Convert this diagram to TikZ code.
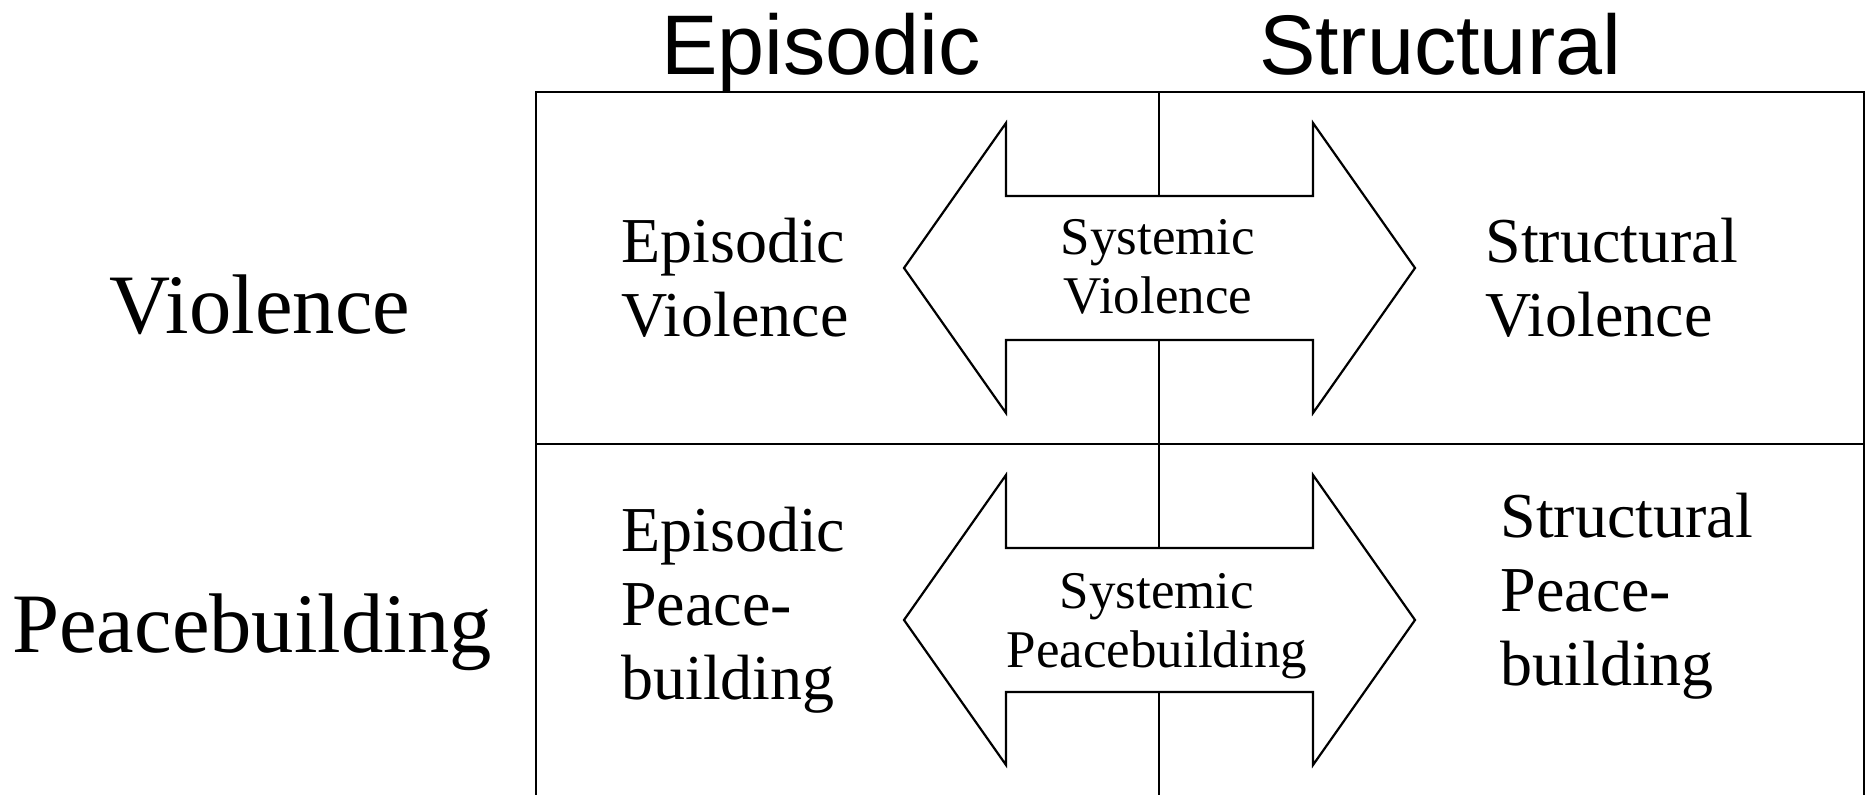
\documentclass[tikz,border=0pt]{standalone}
\usepackage{fontspec}
\setmainfont{Liberation Serif}
\newfontfamily\headfont{Liberation Sans}

\tikzset{
	gridline/.style={line width=1.1pt},
	bigarrow/.style={draw, fill=white, line width=1.1pt},
	colhead/.style={font={\headfont\fontsize{42.3}{50}\selectfont}, anchor=base, inner sep=0pt},
	rowhead/.style={font={\fontsize{42.3}{50}\selectfont}, anchor=base, inner sep=0pt},
	celltext/.style={font={\fontsize{32}{37}\selectfont}, align=left, anchor=base west, inner sep=0pt},
	systext/.style={font={\fontsize{26.5}{29.5}\selectfont}, align=center, anchor=base, inner sep=0pt}
}

\begin{document}
\begin{tikzpicture}[x=0.5pt,y=-0.5pt]
	\useasboundingbox (0,0) rectangle (1868,795);
	% table
	\coordinate (tl) at (536,92);
	\coordinate (tr) at (1864,92);
	\coordinate (tm) at (1159,92);
	\coordinate (bl) at (536,795);
	\coordinate (br) at (1864,795);
	\coordinate (bm) at (1159,795);
	\coordinate (ml) at (536,444);
	\coordinate (mr) at (1864,444);
	\draw [gridline] (bl)--(tl)--(tr)--(br);
	\draw [gridline] (ml)--(mr);
	\draw [gridline] (tm)--(bm);
	% double arrows
	\foreach \cy in {268,620}
	\draw [bigarrow] (904,\cy)--(1006,\cy-145)--(1006,\cy-72)--(1313,\cy-72)--(1313,\cy-145)
		--(1415,\cy)--(1313,\cy+145)--(1313,\cy+72)--(1006,\cy+72)--(1006,\cy+145)--cycle;
	% headings
	\node [colhead] (epihead) at (821,75) {Episodic};
	\node [colhead] (strhead) at (1440,75) {Structural};
	\node [rowhead] (violrow) at (260,334) {Violence};
	\node [rowhead] (peacerow) at (252,653) {Peacebuilding};
	% cells (anchored at the last baseline)
	\node [celltext] (epiviol) at (621,337) {Episodic\\Violence};
	\node [celltext] (strviol) at (1485,337) {Structural\\Violence};
	\node [celltext] (epipeace) at (621,700) {Episodic\\Peace-\\building};
	\node [celltext] (strpeace) at (1500,686) {Structural\\Peace-\\building};
	\node [systext] (sysviol) at (1158,314) {Systemic\\Violence};
	\node [systext] (syspeace) at (1157,668) {Systemic\\Peacebuilding};
\end{tikzpicture}
\end{document}
